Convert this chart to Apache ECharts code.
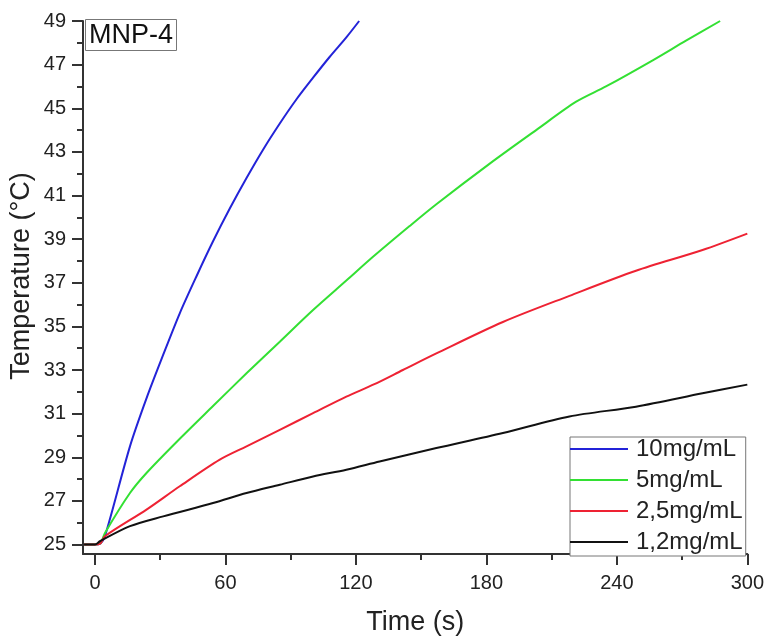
<!DOCTYPE html>
<html><head><meta charset="utf-8">
<script src="https://cdn.jsdelivr.net/npm/echarts@6/dist/echarts.min.js"></script>
<style>html,body{margin:0;padding:0;background:#fff}#c{width:767px;height:641px}</style>
</head><body><div id="c"></div>
<script>
var seriesNames = ['10mg/mL', '5mg/mL', '2,5mg/mL', '1,2mg/mL'];
var tBlue  = [-5, 0, 2.5, 4.6, 16.1, 23.7, 31.4, 39.0, 46.7, 54.3, 62.0, 69.7, 77.3, 85.0, 92.6, 100.3, 107.9, 115.6, 121.5];
var yBlue  = [25, 25, 25.05, 25.38, 29.5, 31.7, 33.7, 35.6, 37.3, 38.9, 40.4, 41.8, 43.1, 44.3, 45.4, 46.4, 47.35, 48.25, 49.0];
var tGreen = [-5, 0, 2.5, 4.6, 16.1, 23.7, 39.0, 54.3, 69.7, 85.0, 100.3, 115.6, 128.0, 144.7, 157.0, 181.4, 202.9, 221.3, 235.0, 256.5, 271.8, 287.5];
var yGreen = [25, 25, 25.05, 25.53, 27.36, 28.28, 29.85, 31.35, 32.85, 34.3, 35.75, 37.1, 38.2, 39.6, 40.6, 42.45, 44.0, 45.3, 46.0, 47.2, 48.1, 49.0];
var tRed   = [-5, 0, 2.5, 4.6, 23.7, 39.0, 57.4, 69.7, 85.0, 100.3, 115.6, 128.5, 141.6, 157.0, 187.6, 218.2, 248.8, 279.4, 300];
var yRed   = [25, 25, 25.05, 25.38, 26.6, 27.67, 28.89, 29.5, 30.26, 31.02, 31.78, 32.35, 33.0, 33.76, 35.2, 36.4, 37.55, 38.5, 39.25];
var tBlack = [-5, 0, 2.3, 16.1, 31.4, 54.3, 69.7, 85.0, 100.3, 115.6, 130.9, 157.0, 187.6, 218.2, 248.8, 279.4, 300];
var yBlack = [25, 25, 25.15, 25.84, 26.29, 26.9, 27.36, 27.74, 28.12, 28.43, 28.81, 29.42, 30.11, 30.87, 31.32, 31.93, 32.33];
var xMajor = [0, 60, 120, 180, 240, 300];
var xMinor = [30, 90, 150, 210, 270];
var yMajor = [25, 27, 29, 31, 33, 35, 37, 39, 41, 43, 45, 47, 49];
var yMinor = [26, 28, 30, 32, 34, 36, 38, 40, 42, 44, 46, 48];

function zip(t, y) { return t.map(function (v, i) { return [v, y[i]]; }); }
var FONT = "'Liberation Sans', Arial, sans-serif";
var AX = '#333';
var chart = echarts.init(document.getElementById('c'));
var colors = ['#2323d8', '#33e033', '#ee2233', '#111111'];
var datas = [zip(tBlue, yBlue), zip(tGreen, yGreen), zip(tRed, yRed), zip(tBlack, yBlack)];
function tickAxis(vals, len) {
  return {
    type: 'value', min: 24.565, max: 49, position: 'left',
    axisLine: {show: false, onZero: false},
    axisTick: {show: true, customValues: vals, length: len, lineStyle: {color: AX, width: 2}},
    axisLabel: {show: false},
    splitLine: {show: false}
  };
}
chart.setOption({
  animation: false,
  backgroundColor: '#fff',
  textStyle: {fontFamily: FONT},
  title: {
    text: 'MNP-4', left: 85, top: 19,
    borderColor: '#777', borderWidth: 1, padding: [3, 4, 2, 4],
    backgroundColor: '#fff',
    textStyle: {fontSize: 27, fontWeight: 'normal', color: '#111', fontFamily: FONT}
  },
  grid: {left: 83, right: 19, top: 21, bottom: 86},
  legend: {
    orient: 'vertical', left: 570, top: 437,
    data: seriesNames.map(function (n) { return {name: n, icon: 'rect'}; }),
    itemWidth: 58, itemHeight: 2, itemGap: 7,
    padding: [0, 3, 2, 0],
    borderColor: '#777', borderWidth: 1, backgroundColor: '#fff',
    textStyle: {fontSize: 24, color: '#222', fontFamily: FONT, padding: [0, 0, 0, 3]}
  },
  xAxis: [{
    type: 'value', min: -5.5, max: 300,
    name: 'Time (s)', nameLocation: 'middle', nameGap: 55,
    nameTextStyle: {fontSize: 27, color: '#222', fontFamily: FONT},
    axisLine: {show: true, onZero: false, lineStyle: {color: AX, width: 2}},
    axisTick: {show: true, customValues: xMajor, length: 11, lineStyle: {color: AX, width: 2}},
    axisLabel: {show: true, customValues: xMajor, fontSize: 20, color: '#222', margin: 19, fontFamily: FONT},
    splitLine: {show: false}
  }, {
    type: 'value', min: -5.5, max: 300, position: 'bottom',
    axisLine: {show: false, onZero: false},
    axisTick: {show: true, customValues: xMinor, length: 6, lineStyle: {color: AX, width: 2}},
    axisLabel: {show: false},
    splitLine: {show: false}
  }],
  yAxis: [{
    type: 'value', min: 24.565, max: 49, position: 'left',
    axisLine: {show: true, onZero: false, lineStyle: {color: AX, width: 2}},
    axisTick: {show: true, customValues: yMajor, length: 11, lineStyle: {color: AX, width: 2}},
    axisLabel: {show: true, customValues: yMajor, fontSize: 20, color: '#222', margin: 17, fontFamily: FONT},
    splitLine: {show: false}
  }, tickAxis(yMinor, 6), tickAxis(yMajor, 11)],
  graphic: [{
    type: 'text', x: 22, y: 276, rotation: Math.PI / 2,
    style: {text: 'Temperature (°C)', fontSize: 27, fill: '#222', fontFamily: FONT,
            textAlign: 'center', textVerticalAlign: 'middle'}
  }],
  series: seriesNames.map(function (n, i) {
    return {
      name: n, type: 'line', xAxisIndex: 0, yAxisIndex: 0,
      data: datas[i], symbol: 'none', showSymbol: false, smooth: 0.3,
      clip: true, color: colors[i],
      lineStyle: {color: colors[i], width: 2}
    };
  })
});
</script></body></html>
